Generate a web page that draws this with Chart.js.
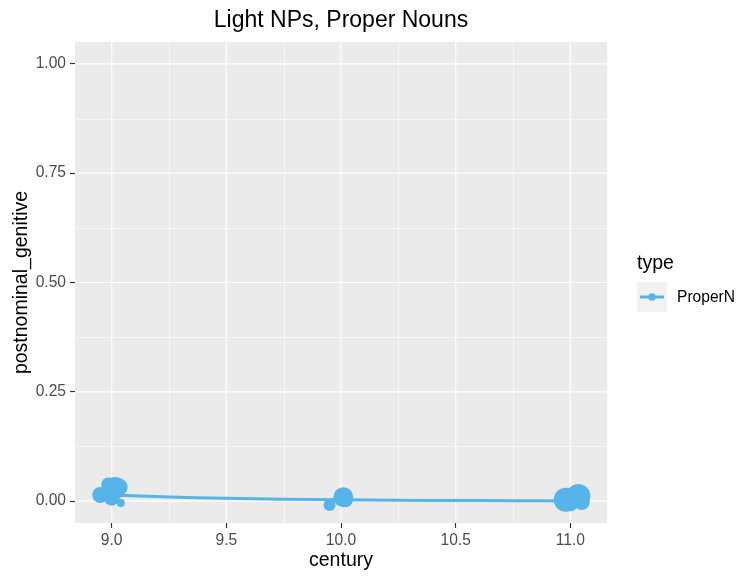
<!DOCTYPE html>
<html>
<head>
<meta charset="utf-8">
<script src="https://cdn.jsdelivr.net/npm/chart.js@4"></script>
<style>
  html, body { margin: 0; padding: 0; background: #ffffff; }
  #wrap { width: 739px; height: 577px; position: relative; }
</style>
</head>
<body>
<div id="wrap"><canvas id="c" width="739" height="577"></canvas></div>
<script>
// Observations per century: jittered centuries, proportion of postnominal genitives, marker radius (count)
const obsCentury = [9.015, 9.03, 8.95, 9.00, 8.985, 9.04, 10.01, 9.95, 10.02, 10.98, 11.035, 11.05, 11.00];
const obsGenitive = [0.030, 0.032, 0.014, 0.008, 0.038, -0.004, 0.009, -0.009, 0.002, 0.003, 0.012, -0.002, -0.005];
const obsRadius = [11, 9, 8, 8, 7, 4, 10, 6, 7, 12, 12, 8, 8];

// Smoothed trend of the genitive proportion
const smoothCentury = [9.0, 9.25, 9.5, 9.75, 10.0, 10.25, 10.5, 10.75, 11.0];
const smoothGenitive = [0.014, 0.0095, 0.0065, 0.0045, 0.003, 0.002, 0.0015, 0.001, 0.0005];

const xTicks = [9.0, 9.5, 10.0, 10.5, 11.0];
const yTicks = [0.00, 0.25, 0.50, 0.75, 1.00];
const xMinor = [9.25, 9.75, 10.25, 10.75];
const yMinor = [0.125, 0.375, 0.625, 0.875];

const BLUE = '#56B4E9';
const FONT = '"Liberation Sans", Arial, sans-serif';

const ggPanel = {
  id: 'ggPanel',
  beforeDatasetsDraw(chart) {
    const { ctx, chartArea: a, scales } = chart;
    ctx.save();
    ctx.fillStyle = '#EBEBEB';
    ctx.fillRect(a.left, a.top, a.right - a.left, a.bottom - a.top);
    ctx.strokeStyle = '#FFFFFF';
    ctx.lineWidth = 0.6;
    xMinor.forEach(v => { const p = Math.round(scales.x.getPixelForValue(v)) + 0.5; ctx.beginPath(); ctx.moveTo(p, a.top); ctx.lineTo(p, a.bottom); ctx.stroke(); });
    yMinor.forEach(v => { const p = Math.round(scales.y.getPixelForValue(v)) + 0.5; ctx.beginPath(); ctx.moveTo(a.left, p); ctx.lineTo(a.right, p); ctx.stroke(); });
    ctx.lineWidth = 1.2;
    xTicks.forEach(v => { const p = scales.x.getPixelForValue(v); ctx.beginPath(); ctx.moveTo(p, a.top); ctx.lineTo(p, a.bottom); ctx.stroke(); });
    yTicks.forEach(v => { const p = scales.y.getPixelForValue(v); ctx.beginPath(); ctx.moveTo(a.left, p); ctx.lineTo(a.right, p); ctx.stroke(); });
    ctx.restore();
  },
  afterDraw(chart) {
    const { ctx, chartArea: a } = chart;
    ctx.save();
    ctx.fillStyle = '#000000';
    ctx.textBaseline = 'middle';
    // title
    ctx.textAlign = 'center';
    ctx.font = '23px ' + FONT;
    ctx.fillText('Light NPs, Proper Nouns', (a.left + a.right) / 2, 21);
    // axis titles
    ctx.font = '19.5px ' + FONT;
    ctx.fillText('century', (a.left + a.right) / 2, 561);
    ctx.save();
    ctx.translate(22, (a.top + a.bottom) / 2);
    ctx.rotate(-Math.PI / 2);
    ctx.fillText('postnominal_genitive', 0, 0);
    ctx.restore();
    // legend
    ctx.textAlign = 'left';
    ctx.font = '19.5px ' + FONT;
    ctx.fillText('type', 637, 264);
    ctx.fillStyle = '#F2F2F2';
    ctx.fillRect(637, 282, 30, 30);
    ctx.strokeStyle = BLUE;
    ctx.lineWidth = 3;
    ctx.beginPath(); ctx.moveTo(640, 297); ctx.lineTo(664, 297); ctx.stroke();
    ctx.fillStyle = BLUE;
    ctx.beginPath(); ctx.arc(652, 297, 3.8, 0, Math.PI * 2); ctx.fill();
    ctx.fillStyle = '#000000';
    ctx.font = '15.6px ' + FONT;
    ctx.fillText('ProperN', 677, 298);
    ctx.restore();
  }
};

const chart = new Chart(document.getElementById('c'), {
  type: 'scatter',
  data: {
    datasets: [
      {
        label: 'trend',
        data: smoothCentury.map((x, i) => ({ x, y: smoothGenitive[i] })),
        showLine: true,
        borderColor: BLUE,
        borderWidth: 3,
        pointRadius: 0,
        tension: 0.4,
        fill: false
      },
      {
        label: 'ProperN',
        data: obsCentury.map((x, i) => ({ x, y: obsGenitive[i] })),
        backgroundColor: BLUE,
        borderColor: BLUE,
        borderWidth: 0,
        pointRadius: obsRadius,
        pointHoverRadius: obsRadius
      }
    ]
  },
  options: {
    responsive: false,
    animation: false,
    events: [],
    layout: { padding: { left: 0, right: 132, top: 42, bottom: 0 } },
    plugins: { legend: { display: false }, tooltip: { enabled: false }, title: { display: false } },
    scales: {
      x: {
        type: 'linear', min: 8.84, max: 11.16,
        afterBuildTicks: s => { s.ticks = xTicks.map(v => ({ value: v })); },
        afterFit: s => { s.height = 54; },
        grid: { drawOnChartArea: false, drawTicks: true, tickLength: 5, tickColor: '#333333', tickWidth: 1.2 },
        border: { display: false },
        ticks: { color: '#4D4D4D', font: { family: FONT, size: 15.6 }, padding: 3, maxRotation: 0, callback: v => Number(v).toFixed(1) }
      },
      y: {
        type: 'linear', min: -0.05, max: 1.05,
        afterBuildTicks: s => { s.ticks = yTicks.map(v => ({ value: v })); },
        afterFit: s => { s.width = 75; },
        grid: { drawOnChartArea: false, drawTicks: true, tickLength: 5, tickColor: '#333333', tickWidth: 1.2 },
        border: { display: false },
        ticks: { color: '#4D4D4D', font: { family: FONT, size: 15.6 }, padding: 4, callback: v => Number(v).toFixed(2) }
      }
    }
  },
  plugins: [ggPanel]
});
</script>
</body>
</html>
